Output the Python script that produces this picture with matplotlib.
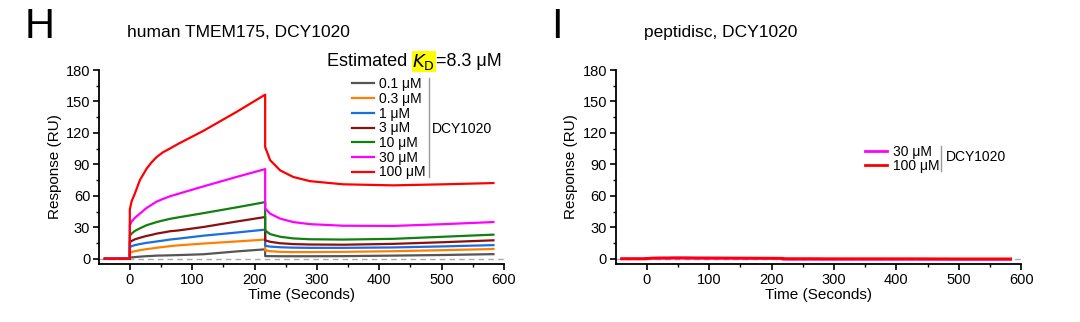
import matplotlib
matplotlib.use("Agg")
import matplotlib.pyplot as plt
from matplotlib.ticker import MultipleLocator

plt.rcParams['font.family'] = ['Liberation Sans', 'DejaVu Sans']

# sensorgram time points (s)
base_t = [-40, 0]
assoc_t = [0, 3, 8, 16, 27, 35, 43, 53, 64, 78, 118, 171, 217]
diss_t = [217, 225, 241, 262, 289, 342, 422, 503, 583]

# TMEM175 responses (RU)
conc_labels = ['0.1 μM', '0.3 μM', '1 μM', '3 μM', '10 μM', '30 μM', '100 μM']
conc_colors = ['#555555', '#ff8000', '#1a6fe0', '#8b1010', '#108010', '#ff00ff', '#ff0000']

assoc_01 = [1.1, 1.3, 1.6, 2.0, 2.5, 2.7, 3.0, 3.1, 3.3, 3.5, 4.3, 7.0, 9.0]
diss_01 = [2.5, 2.5, 2.4, 2.4, 2.4, 2.5, 3.0, 3.6, 4.4]
assoc_03 = [5.5, 6.5, 7.2, 8.2, 9.2, 9.8, 10.5, 11.2, 12.0, 12.8, 14.5, 16.5, 18.3]
diss_03 = [8.0, 7.2, 6.6, 6.4, 6.4, 6.6, 7.2, 8.2, 9.3]
assoc_1 = [11.0, 12.0, 13.0, 14.0, 15.2, 15.8, 16.5, 17.3, 18.3, 19.2, 22.0, 25.0, 27.8]
diss_1 = [12.4, 11.6, 11.0, 10.6, 10.4, 10.4, 10.8, 11.8, 13.0]
assoc_3 = [16.0, 17.0, 18.5, 20.0, 21.8, 22.8, 24.0, 25.0, 26.2, 27.0, 30.3, 35.5, 39.8]
diss_3 = [17.6, 16.2, 14.8, 14.0, 13.6, 13.4, 14.2, 15.8, 17.6]
assoc_10 = [22.0, 24.0, 26.5, 29.0, 32.0, 33.5, 35.0, 36.5, 38.0, 39.5, 43.5, 49.0, 54.0]
diss_10 = [27.0, 23.5, 21.0, 19.4, 18.6, 18.3, 19.0, 21.0, 23.0]
assoc_30 = [32.0, 35.5, 39.0, 43.0, 48.5, 51.5, 54.5, 57.0, 59.5, 62.0, 69.0, 78.0, 85.5]
diss_30 = [48.0, 43.0, 38.3, 35.0, 33.0, 31.5, 31.3, 33.0, 35.0]
assoc_100 = [47.0, 55.0, 62.0, 74.8, 86.0, 92.0, 97.0, 101.5, 105.0, 109.7, 122.0, 140.0, 156.5]
diss_100 = [106.5, 94.0, 84.3, 78.0, 74.0, 71.0, 70.0, 71.0, 72.2]

# peptidisc control responses (RU)
pd_labels = ['30 μM', '100 μM']
pd_colors = ['#ff00ff', '#ff0000']
pd_assoc_30 = [0.2, 0.3, 0.4, 0.5, 0.5, 0.5, 0.6, 0.6, 0.6, 0.5, 0.5, 0.4, 0.3]
pd_diss_30 = [-0.4, -0.5, -0.5, -0.5, -0.5, -0.5, -0.5, -0.6, -0.6]
pd_assoc_100 = [0.3, 0.4, 0.6, 0.7, 0.8, 0.8, 0.9, 0.9, 0.9, 0.8, 0.7, 0.6, 0.5]
pd_diss_100 = [0.2, 0.1, 0.1, 0.1, 0.0, 0.0, 0.0, -0.1, -0.1]

tmem_assoc = [assoc_01, assoc_03, assoc_1, assoc_3, assoc_10, assoc_30, assoc_100]
tmem_diss = [diss_01, diss_03, diss_1, diss_3, diss_10, diss_30, diss_100]


def trace(assoc, diss):
    t = base_t + assoc_t + diss_t
    y = [0, 0] + assoc + diss
    return t, y


def style_axes(ax):
    ax.set_xlim(-49, 600)
    ax.set_ylim(-5, 180)
    ax.spines['top'].set_visible(False)
    ax.spines['right'].set_visible(False)
    ax.spines['left'].set_linewidth(1.3)
    ax.spines['bottom'].set_linewidth(1.3)
    ax.xaxis.set_major_locator(MultipleLocator(100))
    ax.xaxis.set_minor_locator(MultipleLocator(50))
    ax.yaxis.set_major_locator(MultipleLocator(30))
    ax.yaxis.set_minor_locator(MultipleLocator(15))
    ax.tick_params(which='major', length=4, width=1.2, labelsize=10.5, pad=2.5)
    ax.tick_params(which='minor', length=2.5, width=1)
    ax.axhline(0, color='#aaaaaa', lw=1, ls=(0, (4, 3)), zorder=0)
    ax.set_xlabel('Time (Seconds)', fontsize=11, labelpad=0.5)
    ax.set_ylabel('Response (RU)', fontsize=11, labelpad=3)


fig = plt.figure(figsize=(10.8, 3.22), dpi=100)
ax1 = fig.add_axes([0.0919, 0.1801, 0.3748, 0.6025])
ax2 = fig.add_axes([0.5704, 0.1801, 0.3752, 0.6025])

for a, d, c, lab in zip(tmem_assoc, tmem_diss, conc_colors, conc_labels):
    t, y = trace(a, d)
    ax1.plot(t, y, color=c, lw=1.6, label=lab)
style_axes(ax1)

ax1.legend(loc='upper left', bbox_to_anchor=(0.3257, 0.760), bbox_transform=fig.transFigure,
           frameon=False, fontsize=10, handlelength=1.6, handletextpad=0.36,
           labelspacing=0.05, borderpad=0, borderaxespad=0)
fig.add_artist(plt.Line2D([0.3969, 0.3969], [0.4503, 0.7578], color='#999999', lw=1))
fig.text(0.400, 0.5994, 'DCY1020', fontsize=10, va='center', ha='left')

for a, d, c, lab in zip([pd_assoc_30, pd_assoc_100], [pd_diss_30, pd_diss_100], pd_colors, pd_labels):
    t, y = trace(a, d)
    ax2.plot(t, y, color=c, lw=2, label=lab)
style_axes(ax2)

ax2.legend(loc='upper left', bbox_to_anchor=(0.8012, 0.5497), bbox_transform=fig.transFigure,
           frameon=False, fontsize=10, handlelength=1.55, handletextpad=0.45,
           labelspacing=-0.02, borderpad=0, borderaxespad=0)
fig.add_artist(plt.Line2D([0.8713, 0.8713], [0.469, 0.5466], color='#999999', lw=1))
fig.text(0.8755, 0.5124, 'DCY1020', fontsize=10, va='center', ha='left')

# panel letters and titles
fig.text(0.023, 0.882, 'H', fontsize=30, va='baseline', ha='left')
fig.text(0.118, 0.8997, 'human TMEM175, DCY1020', fontsize=12.5, va='center', ha='left')
fig.text(0.510, 0.882, 'I', fontsize=30, va='baseline', ha='left')
fig.text(0.5963, 0.8997, 'peptidisc, DCY1020', fontsize=12.5, va='center', ha='left')

# KD annotation with highlighted symbol
t1 = fig.text(0.3028, 0.8084, 'Estimated ', fontsize=13, va='center', ha='left')
fig.canvas.draw()
bb = t1.get_window_extent()
t2 = fig.text(bb.x1 / fig.bbox.width, 0.8084, r'$\mathit{K}_{\mathrm{D}}$', fontsize=13,
              va='center', ha='left',
              bbox=dict(facecolor='#ffff00', edgecolor='none', pad=0.5))
fig.canvas.draw()
bb2 = t2.get_window_extent()
fig.text(bb2.x1 / fig.bbox.width + 0.001, 0.8084, '=8.3 μM', fontsize=13, va='center', ha='left')

fig.savefig('out.png', dpi=100)
